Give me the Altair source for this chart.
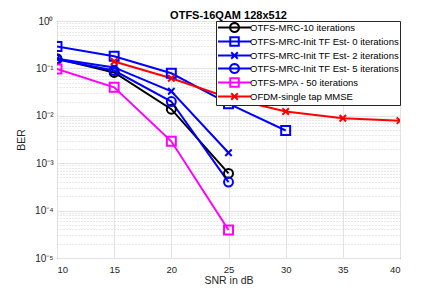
import math
import altair as alt
import pandas as pd

# ---- data ----
series_names = [
    "OTFS-MRC-10 iterations",
    "OTFS-MRC-Init TF Est- 0 iterations",
    "OTFS-MRC-Init TF Est- 2 iterations",
    "OTFS-MRC-Init TF Est- 5 iterations",
    "OTFS-MPA - 50 iterations",
    "OFDM-single tap MMSE",
]
series_colors = ["#000000", "#0000FF", "#0000FF", "#0000FF", "#FF00FF", "#FF0000"]

snr_mrc10 = [10, 15, 20, 25]
ber_mrc10 = [0.16, 0.082, 0.0138, 0.00061]
snr_init0 = [10, 15, 20, 25, 30]
ber_init0 = [0.29, 0.18, 0.079, 0.018, 0.0049]
snr_init2 = [10, 15, 20, 25]
ber_init2 = [0.16, 0.105, 0.033, 0.00166]
snr_init5 = [10, 15, 20, 25]
ber_init5 = [0.155, 0.09, 0.02, 0.0004]
snr_mpa = [10, 15, 20, 25]
ber_mpa = [0.097, 0.04, 0.0029, 0.000039]
snr_ofdm = [15, 20, 25, 30, 35, 40]
ber_ofdm = [0.14, 0.062, 0.024, 0.0123, 0.0089, 0.0079]

x_ticks = [10, 15, 20, 25, 30, 35, 40]
y_major = [1e-5, 1e-4, 1e-3, 1e-2, 1e-1, 1]
y_minor = [k * 10.0 ** e for e in range(-5, 0) for k in range(2, 10)]

all_snr = [snr_mrc10, snr_init0, snr_init2, snr_init5, snr_mpa, snr_ofdm]
all_ber = [ber_mrc10, ber_init0, ber_init2, ber_init5, ber_mpa, ber_ofdm]

rows = []
for name, xs, ys in zip(series_names, all_snr, all_ber):
    for xv, yv in zip(xs, ys):
        rows.append({"snr": xv, "ber": yv, "series": name})
df = pd.DataFrame(rows)

circle_series = [series_names[0], series_names[3]]
square_series = [series_names[1], series_names[4]]
x_series = [series_names[2], series_names[5]]

X_PATH = "M-0.72,-0.72L0.72,0.72M-0.72,0.72L0.72,-0.72"

# legend glyphs: line with the series marker in the middle (units of 4.5 px)
def _ring(cx, r, n=20):
    pts = [(cx + r * math.cos(2 * math.pi * i / n), r * math.sin(2 * math.pi * i / n)) for i in range(n)]
    return "M" + "L".join(f"{px:.3f},{py:.3f}" for px, py in pts) + "Z"


LC = "M-1,0L6.33,0" + _ring(2.67, 1.0)
LS = "M-1,0L6.33,0M1.72,-0.95L3.62,-0.95L3.62,0.95L1.72,0.95Z"
LX = "M-1,0L6.33,0M1.94,-0.73L3.4,0.73M1.94,0.73L3.4,-0.73"
legend_paths = [LC, LS, LX, LC, LS, LX]

FONT = "Liberation Sans"
TXT = "#262626"

x_axis = alt.Axis(values=x_ticks, title="SNR in dB", grid=True, gridColor="#e3e3e3",
                  ticks=False, domain=False, labelFontSize=9.5, titleFontSize=10.5,
                  labelColor=TXT, titleColor=TXT, titleFontWeight="normal",
                  labelFont=FONT, titleFont=FONT, labelPadding=6, titlePadding=2)
x_enc = alt.X("snr:Q", scale=alt.Scale(domain=[10, 40], nice=False, zero=False), axis=x_axis)

y_scale = alt.Scale(type="log", domain=[1e-5, 1], nice=False)
label_expr = ("datum.value >= 0.5 ? '10⁰' : datum.value >= 0.05 ? '10⁻¹' : "
              "datum.value >= 0.005 ? '10⁻²' : datum.value >= 0.0005 ? '10⁻³' : "
              "datum.value >= 0.00005 ? '10⁻⁴' : '10⁻⁵'")
y_axis_major = alt.Axis(values=y_major, labelExpr=label_expr, title="BER", grid=True,
                        gridColor="#e3e3e3", ticks=False, domain=False, labelFontSize=10,
                        titleFontSize=10.5, labelColor=TXT, titleColor=TXT,
                        titleFontWeight="normal", labelFont=FONT, titleFont=FONT,
                        labelPadding=4, titlePadding=8, orient="left")
y_axis_minor = alt.Axis(values=y_minor, labels=False, title=None, grid=True,
                        gridColor="#d2d2d2", gridDash=[1, 2], ticks=False, domain=False,
                        orient="left")

color_scale = alt.Scale(domain=series_names, range=series_colors)
color_plain = alt.Color("series:N", scale=color_scale)

base = alt.Chart(df)

legend_layer = base.mark_point(
    filled=False, strokeWidth=2, opacity=1, size=0, strokeJoin="round"
).encode(
    x=x_enc,
    y=alt.Y("ber:Q", scale=y_scale, axis=y_axis_minor),
    color=alt.Color("series:N", scale=color_scale,
                    legend=alt.Legend(title=None, orient="top-right", offset=0)),
    shape=alt.Shape("series:N", scale=alt.Scale(domain=series_names, range=legend_paths)),
)

lines = base.mark_line(strokeWidth=2, clip=True).encode(
    x=x_enc,
    y=alt.Y("ber:Q", scale=y_scale, axis=y_axis_major),
    color=color_plain,
    order="snr:Q",
)


def point_layer(names, shape):
    return base.transform_filter(alt.FieldOneOfPredicate(field="series", oneOf=names)).mark_point(
        filled=False, strokeWidth=2, size=80, opacity=1, shape=shape, clip=True
    ).encode(
        x=x_enc,
        y=alt.Y("ber:Q", scale=y_scale, axis=None),
        color=color_plain,
    )


pts_circle = point_layer(circle_series, "circle")
pts_square = point_layer(square_series, "square")
pts_x = point_layer(x_series, X_PATH)

chart = alt.layer(legend_layer, lines, pts_circle, pts_square, pts_x).resolve_axis(
    y="independent"
).properties(
    width=343,
    height=237,
    title=alt.Title("OTFS-16QAM 128x512", fontSize=11, font=FONT, fontWeight="bold",
                    color="#000000", anchor="middle", offset=4, baseline="alphabetic", dy=18),
    autosize=alt.AutoSizeParams(type="none"),
    padding={"left": 49, "top": 13, "right": 35, "bottom": 33},
).configure_view(
    stroke="#262626", strokeWidth=1
).configure_legend(
    fillColor="#ffffff", strokeColor="#262626", padding=1, labelFontSize=9.5,
    labelFont=FONT, labelColor="#000000", symbolSize=81, symbolStrokeWidth=2,
    symbolFillColor="transparent", labelLimit=300, rowPadding=-5.2, labelOffset=22,
    cornerRadius=0,
)

chart.save("out.html", embed_options={"renderer": "svg", "actions": False})
